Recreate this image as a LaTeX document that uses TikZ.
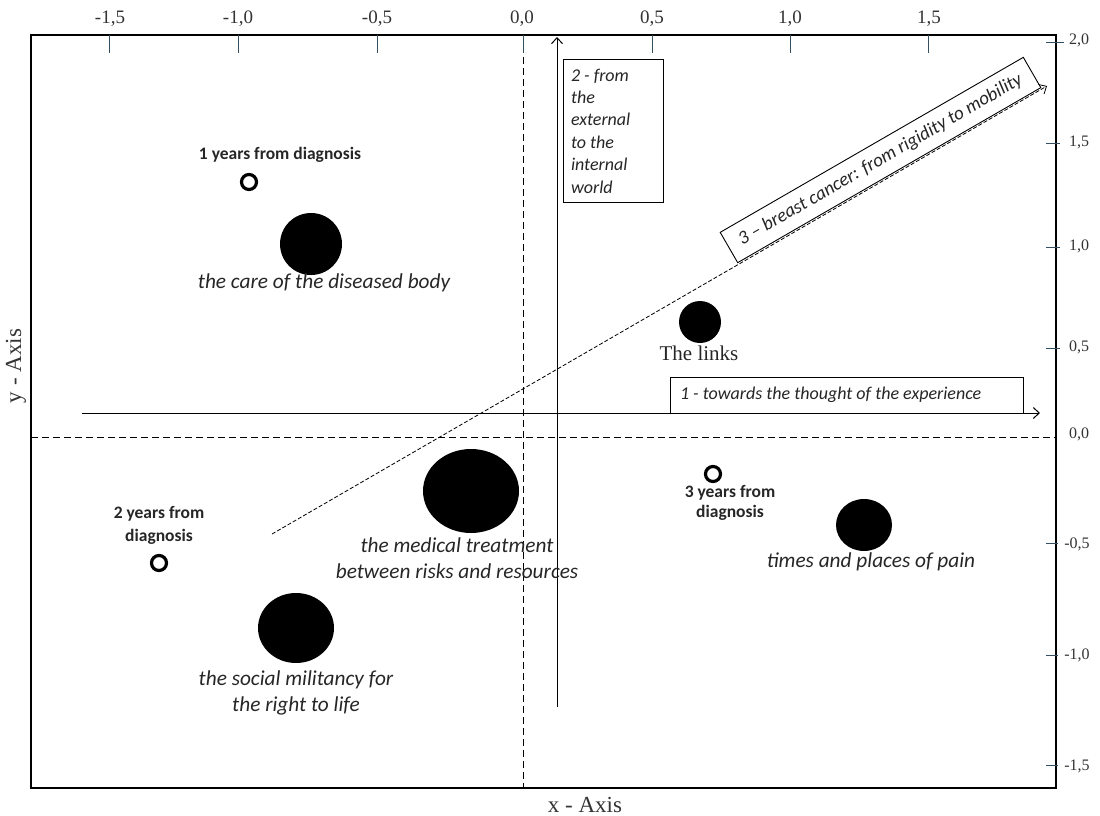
\documentclass[tikz,border=0pt]{standalone}
\usepackage{fontspec}
\setmainfont{Liberation Serif}
\newfontfamily\calibri{Carlito}
\usetikzlibrary{shapes.geometric,arrows.meta}
\definecolor{tickblue}{RGB}{52,78,98}

\begin{document}
\begin{tikzpicture}[x=1pt,y=-1pt,>={Straight Barb[length=6pt,width=11pt]}]

\tikzstyle{bub}=[ellipse,fill=black,inner sep=0pt];
\tikzstyle{ring}=[circle,draw,line width=3.2pt,minimum size=15pt,inner sep=0pt];
\tikzstyle{theme}=[font=\calibri\itshape\fontsize{21.3}{26}\selectfont,text=black!85,align=center];
\tikzstyle{years}=[font=\calibri\bfseries\fontsize{17.5}{23}\selectfont,text=black!85,align=center];
\tikzstyle{axlab}=[font=\fontsize{23}{26}\selectfont,text=black!80];
\tikzstyle{ticklab}=[font=\fontsize{19}{20}\selectfont,text=black!80];
\tikzstyle{tk}=[tickblue,line width=1pt];
\tikzstyle{dir}=[draw,line width=0.9pt,font=\calibri\itshape\fontsize{18}{22.4}\selectfont,text=black!85];

\useasboundingbox (0,0) rectangle (1100,816);

% frame and zero lines
\draw[line width=2.2pt] (31,35) rectangle (1056,788);
\coordinate (x0t) at (523,35);
\coordinate (x0b) at (523,788);
\coordinate (y0l) at (31,437);
\coordinate (y0r) at (1056,437);
\draw[dash pattern=on 7pt off 4pt] (x0t) -- (x0b);
\draw[dash pattern=on 7pt off 4pt] (y0l) -- (y0r);

% top scale
\draw[tk] (109.5,35) -- (109.5,53);
\draw[tk] (238.5,35) -- (238.5,53);
\draw[tk] (377,35) -- (377,53);
\draw[tk] (523,35) -- (523,53);
\draw[tk] (652,35) -- (652,53);
\draw[tk] (790,35) -- (790,53);
\draw[tk] (928,35) -- (928,53);
\node[ticklab] (t1) at (110,19) {-1,5};
\node[ticklab] (t2) at (238,19) {-1,0};
\node[ticklab] (t3) at (377,19) {-0,5};
\node[ticklab] (t4) at (522,19) {0,0};
\node[ticklab] (t5) at (652,19) {0,5};
\node[ticklab] (t6) at (790,19) {1,0};
\node[ticklab] (t7) at (929,19) {1,5};

% right scale
\draw[tk] (1046,43) -- (1064,43);
\draw[tk] (1046,143) -- (1060,143);
\draw[tk] (1046,247) -- (1060,247);
\draw[tk] (1046,348) -- (1060,348);
\draw[tk] (1046,543) -- (1058,543);
\draw[tk] (1046,655) -- (1058,655);
\draw[tk] (1046,765) -- (1058,765);
\node[ticklab,font=\fontsize{16}{18}\selectfont] (s1) at (1079,40) {2,0};
\node[ticklab,font=\fontsize{16}{18}\selectfont] (s2) at (1079,142) {1,5};
\node[ticklab,font=\fontsize{16}{18}\selectfont] (s3) at (1079,246) {1,0};
\node[ticklab,font=\fontsize{16}{18}\selectfont] (s4) at (1079,347) {0,5};
\node[ticklab,font=\fontsize{16}{18}\selectfont] (s5) at (1079,434) {0,0};
\node[ticklab,font=\fontsize{16}{18}\selectfont] (s6) at (1077,544) {-0,5};
\node[ticklab,font=\fontsize{16}{18}\selectfont] (s7) at (1077,655) {-1,0};
\node[ticklab,font=\fontsize{16}{18}\selectfont] (s8) at (1077,766) {-1,5};

\node[axlab] (xa) at (585,805) {x - Axis};
\node[axlab,rotate=90] (ya) at (16,366) {y - Axis};

% directions
\coordinate (h1) at (82,413);
\coordinate (h2) at (1040,413);
\draw[->,line width=1pt] (h1) -- (h2);
\coordinate (w1) at (557,707);
\coordinate (w2) at (557,37);
\draw[->,line width=1pt] (w1) -- (w2);
\coordinate (d1) at (272,534);
\coordinate (d2) at (1047,86);
\draw[->,dash pattern=on 4pt off 2pt,line width=0.8pt] (d1) -- (d2);

\node[dir,text width=333pt,align=flush left,inner sep=10pt,minimum height=36pt] (n1) at (846.5,395) {1 - towards the thought of the experience};
\node[dir,text width=84pt,align=flush left,inner sep=8pt,minimum height=143pt] (n2) at (613,131) {2 - from\\the\\external\\to the\\internal\\world};
\node[dir,rotate=30,minimum width=350pt,minimum height=35pt,font=\calibri\itshape\fontsize{19}{22}\selectfont] (n3) at (880.5,160) {3 – breast cancer: from rigidity to mobility};

% themes
\node[bub,minimum width=62pt,minimum height=62pt] (b1) at (311,244) {};
\node[theme] (b1l) at (324,283) {the care of the diseased body};
\node[bub,minimum width=42pt,minimum height=42pt] (b2) at (700,322) {};
\node[axlab,text=black!85,font=\fontsize{21}{24}\selectfont] (b2l) at (699,353) {The links};
\node[bub,minimum width=96pt,minimum height=84pt] (b3) at (471,491) {};
\node[theme] (b3l) at (457,558) {the medical treatment\\between risks and resources};
\node[bub,minimum width=76pt,minimum height=70pt] (b4) at (296,628) {};
\node[theme] (b4l) at (296,693) {the social militancy for\\the right to life};
\node[bub,minimum width=56pt,minimum height=52pt] (b5) at (864,525) {};
\node[theme] (b5l) at (871,562) {times and places of pain};

% years
\node[ring] (r1) at (249,182) {};
\node[years] (r1l) at (280,155) {1 years from diagnosis};
\node[ring] (r2) at (159,563) {};
\node[years] (r2l) at (159,525.5) {2 years from\\diagnosis};
\node[ring] (r3) at (713,474) {};
\node[years,font=\calibri\bfseries\fontsize{17.5}{20}\selectfont] (r3l) at (730,503) {3 years from\\diagnosis};

\end{tikzpicture}
\end{document}
